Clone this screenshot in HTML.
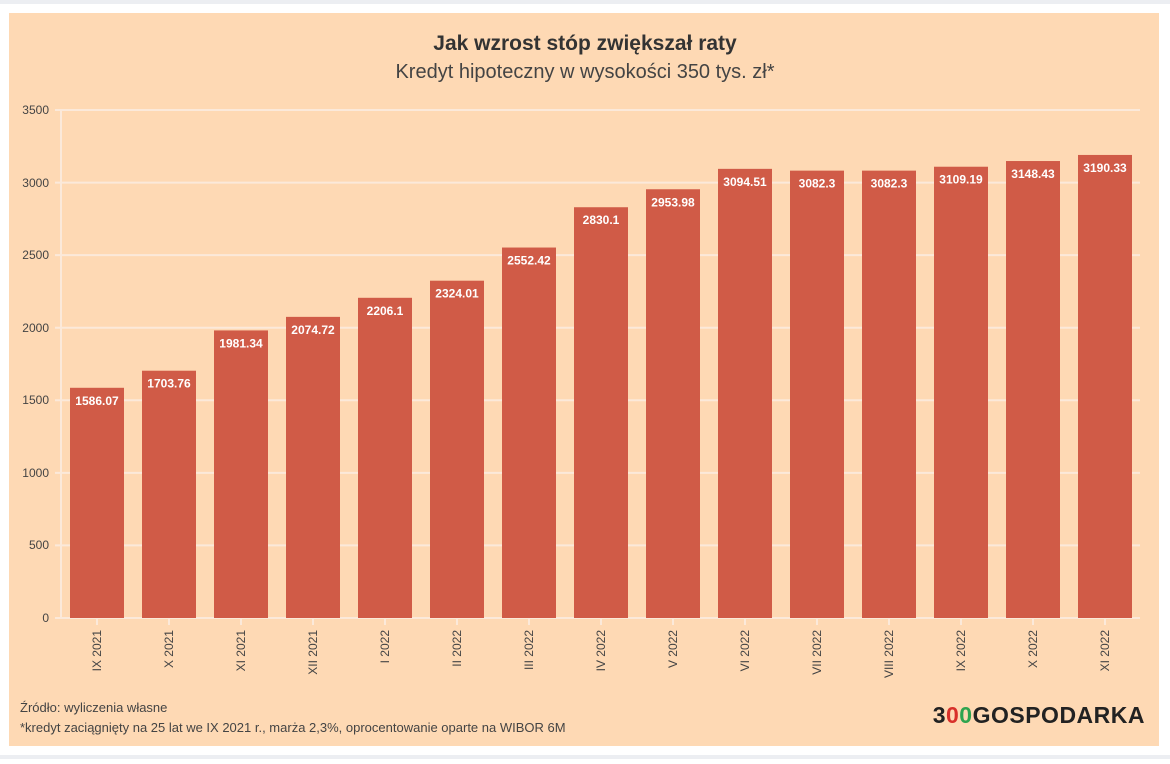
<!DOCTYPE html>
<html><head><meta charset="utf-8"><style>
body{margin:0;width:1170px;height:759px;background:#fff;overflow:hidden;font-family:"Liberation Sans",sans-serif}
</style></head><body>
<svg width="1170" height="759" xmlns="http://www.w3.org/2000/svg" font-family="Liberation Sans, sans-serif">
<rect x="0" y="0" width="1170" height="4" fill="#eceef2"/>
<rect x="0" y="755" width="1170" height="4" fill="#eceef2"/>
<rect x="9" y="13" width="1150" height="733" fill="#fed9b4"/>
<text x="585" y="50" text-anchor="middle" font-size="21" font-weight="bold" fill="#333">Jak wzrost stóp zwiększał raty</text>
<text x="585" y="78" text-anchor="middle" font-size="20" fill="#444">Kredyt hipoteczny w wysokości 350 tys. zł*</text>
<g stroke="#fbe9da" stroke-width="2">
<line x1="55" y1="110" x2="1140" y2="110"/><line x1="55" y1="182.6" x2="1140" y2="182.6"/>
<line x1="55" y1="255.1" x2="1140" y2="255.1"/><line x1="55" y1="327.7" x2="1140" y2="327.7"/>
<line x1="55" y1="400.3" x2="1140" y2="400.3"/><line x1="55" y1="472.9" x2="1140" y2="472.9"/>
<line x1="55" y1="545.4" x2="1140" y2="545.4"/><line x1="55" y1="618" x2="1140" y2="618"/>
<line x1="61" y1="110" x2="61" y2="618"/>
</g>
<g font-size="12" fill="#444" text-anchor="end">
<text x="49" y="114">3500</text><text x="49" y="187">3000</text><text x="49" y="259">2500</text>
<text x="49" y="332">2000</text><text x="49" y="404">1500</text><text x="49" y="477">1000</text>
<text x="49" y="549">500</text><text x="49" y="622">0</text>
</g>
<g id="bars"></g>
<text x="20" y="712" font-size="13" fill="#444">Źródło: wyliczenia własne</text>
<text x="20" y="732" font-size="13" fill="#444">*kredyt zaciągnięty na 25 lat we IX 2021 r., marża 2,3%, oprocentowanie oparte na WIBOR 6M</text>
<text x="1145" y="723" text-anchor="end" font-size="23" font-weight="bold" fill="#222" letter-spacing="0.5">3<tspan fill="#d8302a">0</tspan><tspan fill="#2ea44f">0</tspan>GOSPODARKA</text>
</svg>
<script>
var v=[1586.07,1703.76,1981.34,2074.72,2206.1,2324.01,2552.42,2830.1,2953.98,3094.51,3082.3,3082.3,3109.19,3148.43,3190.33];
var l=["IX 2021","X 2021","XI 2021","XII 2021","I 2022","II 2022","III 2022","IV 2022","V 2022","VI 2022","VII 2022","VIII 2022","IX 2022","X 2022","XI 2022"];
var g=document.getElementById('bars'),s='';
v.forEach(function(d,i){var c=97+i*72,h=d/3500*508,y=618-h;
s+='<rect x="'+(c-27)+'" y="'+y+'" width="54" height="'+h+'" fill="#d05b47"/>';
s+='<text x="'+c+'" y="'+(y+17)+'" text-anchor="middle" font-size="12" font-weight="bold" fill="#fff">'+d+'</text>';
s+='<line x1="'+c+'" y1="618" x2="'+c+'" y2="625" stroke="#fbe9da" stroke-width="2"/>';
s+='<text transform="translate('+(c+4)+',630) rotate(-90)" text-anchor="end" font-size="12" fill="#444">'+l[i]+'</text>';});
g.innerHTML=s;
</script>
</body></html>
